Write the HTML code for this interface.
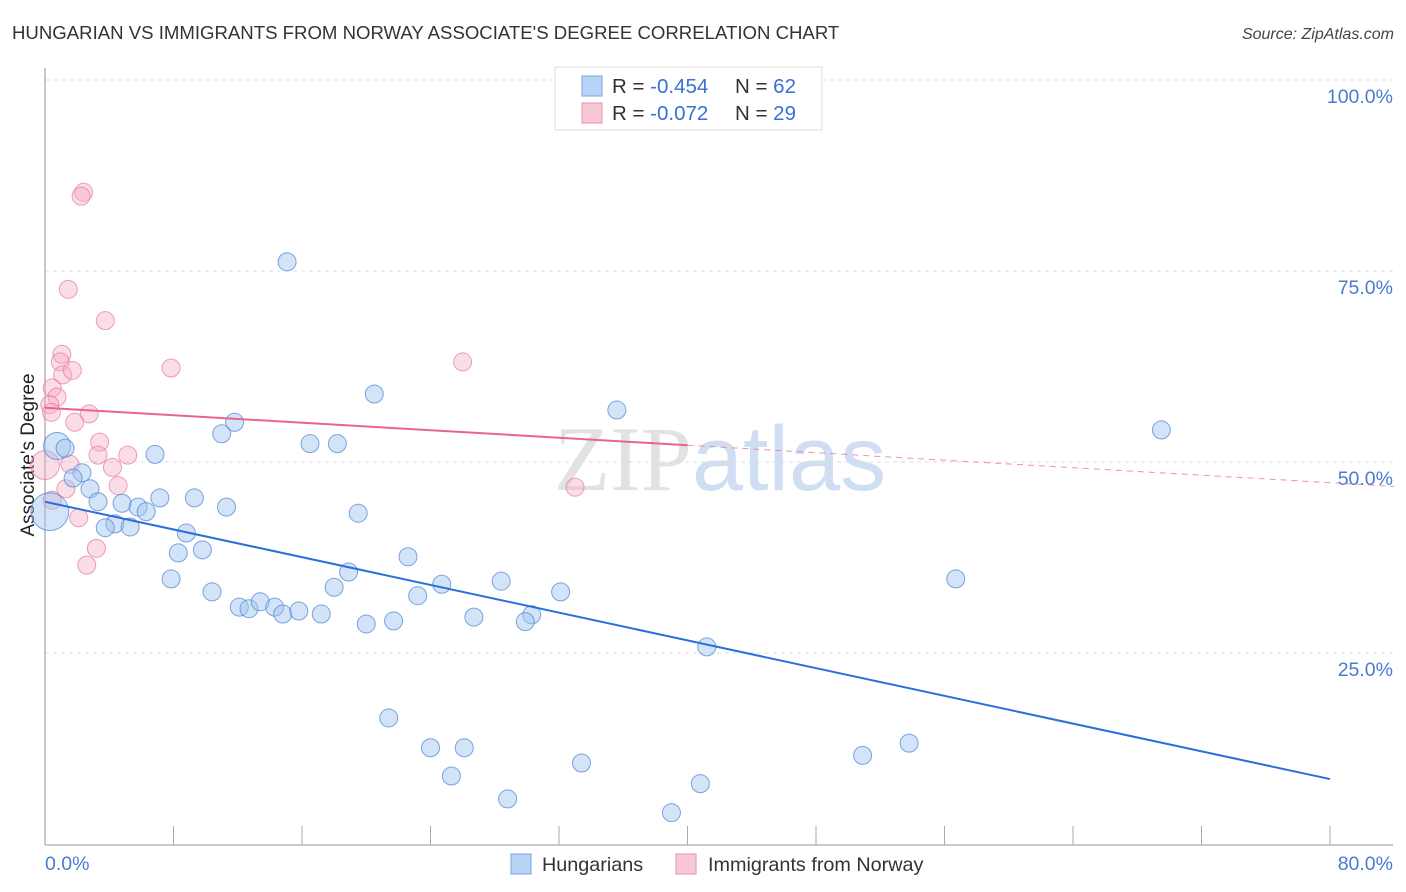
<!DOCTYPE html>
<html><head><meta charset="utf-8"><style>
body{margin:0;background:#fff;font-family:"Liberation Sans",sans-serif}
svg{display:block}
</style></head><body>
<svg id="chart" width="1406" height="892" viewBox="0 0 1406 892" xmlns="http://www.w3.org/2000/svg" font-family="Liberation Sans, sans-serif">
<text x="12" y="39" font-size="18.6" fill="#333">HUNGARIAN VS IMMIGRANTS FROM NORWAY ASSOCIATE'S DEGREE CORRELATION CHART</text>
<text x="1394" y="39" font-size="16" fill="#444" text-anchor="end" font-style="italic">Source: ZipAtlas.com</text>
<g font-size="92" text-anchor="middle">
<text x="720" y="490" fill="#ccc" opacity="0.55" font-family="Liberation Serif, serif">ZIP<tspan fill="#a9c4ea" font-family="Liberation Sans, sans-serif">atlas</tspan></text>
</g>
<g id="grid"></g>
<g id="yticks"></g>
<line x1="45" y1="68" x2="45" y2="845" stroke="#aaa" stroke-width="1.3"/>
<line x1="45" y1="845" x2="1393" y2="845" stroke="#aaa" stroke-width="1.3"/>
<g id="xticks"></g>
<text x="45" y="870" font-size="19.5" fill="#4a7bd0">0.0%</text>
<text x="1393" y="870" font-size="19.5" fill="#4a7bd0" text-anchor="end">80.0%</text>
<text transform="translate(34,455) rotate(-90)" font-size="19" fill="#222" text-anchor="middle">Associate's Degree</text>
<g id="pinkpts"></g>
<g id="bluepts"></g>
<g id="lines"></g>
<g>
<rect x="555" y="67" width="267" height="63" fill="#fff" stroke="#ddd"/>
<rect x="582" y="76" width="20" height="20" fill="#b8d3f5" stroke="#7aa5e0"/>
<rect x="582" y="103" width="20" height="20" fill="#f9c8d6" stroke="#e890aa"/>
<text x="612" y="93" font-size="20.5" fill="#333">R = <tspan fill="#3a6fd6">-0.454</tspan><tspan x="735">N = </tspan><tspan fill="#3a6fd6">62</tspan></text>
<text x="612" y="120" font-size="20.5" fill="#333">R = <tspan fill="#3a6fd6">-0.072</tspan><tspan x="735">N = </tspan><tspan fill="#3a6fd6">29</tspan></text>
</g>
<g>
<rect x="511" y="854" width="20" height="20" fill="#b8d3f5" stroke="#7aa5e0"/>
<text x="542" y="871" font-size="19.8" fill="#333">Hungarians</text>
<rect x="676" y="854" width="20" height="20" fill="#f9c8d6" stroke="#e890aa"/>
<text x="708" y="871" font-size="19.8" fill="#333">Immigrants from Norway</text>
</g>
</svg>
<script>
const yTicks=[25,50,75,100];
const yTickLabels=["25.0%","50.0%","75.0%","100.0%"];
const xTicks=[0,8,16,24,32,40,48,56,64,72,80];
const blueX=[15.07,20.5,35.6,69.5,11.8,11.0,16.5,18.2,0.75,1.25,6.85,2.3,1.75,2.8,7.15,9.3,3.3,4.8,5.8,6.3,11.3,19.5,0.3,4.35,3.75,5.3,8.8,8.3,9.8,22.6,18.9,7.85,18.0,24.7,28.4,56.7,10.4,23.2,32.1,12.1,12.7,13.4,14.3,14.8,15.8,17.2,20.0,21.7,26.7,30.3,29.9,41.2,21.4,24.0,26.1,53.8,50.9,33.4,25.3,28.8,40.8,39.0];
const blueY=[76.2,58.9,56.8,54.2,55.2,53.7,52.4,52.4,52.1,51.8,51.0,48.6,47.9,46.5,45.3,45.3,44.8,44.6,44.1,43.5,44.1,43.3,43.5,41.9,41.4,41.5,40.7,38.1,38.5,37.6,35.6,34.7,33.6,34.0,34.4,34.7,33.0,32.5,33.0,31.0,30.8,31.7,31.0,30.1,30.5,30.1,28.8,29.2,29.7,30.0,29.1,25.8,16.5,12.6,12.6,13.2,11.6,10.6,8.9,5.9,7.9,4.1];
const blueSize=[1,1,1,1,1,1,1,1,1.5,1,1,1,1,1,1,1,1,1,1,1,1,1,2.1,1,1,1,1,1,1,1,1,1,1,1,1,1,1,1,1,1,1,1,1,1,1,1,1,1,1,1,1,1,1,1,1,1,1,1,1,1,1,1];
const pinkX=[2.4,2.25,1.45,3.75,7.85,26.0,1.05,0.95,1.1,1.7,0.45,0.75,0.3,0.4,2.75,1.85,3.4,3.3,5.15,4.2,1.55,0,1.3,4.55,33.0,2.1,3.2,2.6,0.45];
const pinkY=[85.3,84.8,72.6,68.5,62.3,63.1,64.1,63.1,61.4,62.0,59.7,58.5,57.5,56.5,56.3,55.2,52.6,50.9,50.9,49.3,49.7,49.6,46.5,46.9,46.7,42.7,38.7,36.5,45.0];
const pinkSize=[1,1,1,1,1,1,1,1,1,1,1,1,1,1,1,1,1,1,1,1,1,1.6,1,1,1,1,1,1,1];
const blueTrend=[44.8,8.5];
const pinkTrend=[57.1,52.2,46.8];
const NS="http://www.w3.org/2000/svg";
const X=v=>45+v*16.0625, Y=v=>844-v*7.64;
function mk(t,a,p){const e=document.createElementNS(NS,t);for(const k in a)e.setAttribute(k,a[k]);p.appendChild(e);return e;}
const grid=document.getElementById('grid'),yt=document.getElementById('yticks');
yTicks.forEach((t,i)=>{
 const l=mk('line',{x1:45,x2:1393,y1:Y(t),y2:Y(t),stroke:'#ddd','stroke-dasharray':'4,4'},grid);
 
 
 const tx=mk('text',{x:1393,y:Y(t)+23,'font-size':19.5,fill:'#4a7bd0','text-anchor':'end'},yt);
 tx.textContent=yTickLabels[i];
 
 
});
const xt=document.getElementById('xticks');
xTicks.forEach(t=>{const l=mk('line',{x1:X(t),x2:X(t),y1:826,y2:845,stroke:'#aaa'},xt);
 
 });
const pp=document.getElementById('pinkpts');
pinkX.forEach((v,i)=>{const c=mk('circle',{cx:X(v),cy:Y(pinkY[i]),r:9*pinkSize[i],fill:'rgba(246,170,195,0.4)',stroke:'rgba(230,120,155,0.7)','stroke-width':1},pp);
 
 });
const bp=document.getElementById('bluepts');
blueX.forEach((v,i)=>{const c=mk('circle',{cx:X(v),cy:Y(blueY[i]),r:9*blueSize[i],fill:'rgba(160,196,240,0.45)',stroke:'rgba(70,130,210,0.7)','stroke-width':1},bp);
 
 });
const lg=document.getElementById('lines');
const b=mk('line',{x1:X(0),y1:Y(blueTrend[0]),x2:X(80),y2:Y(blueTrend[1]),stroke:'#2a6fdb','stroke-width':2},lg);


const p1=mk('line',{x1:X(0),y1:Y(pinkTrend[0]),x2:X(40),y2:Y(pinkTrend[1]),stroke:'#e8648e','stroke-width':2},lg);


const p2=mk('line',{x1:X(40),y1:Y(pinkTrend[1]),x2:X(84),y2:Y(pinkTrend[2]),stroke:'#e8648e','stroke-width':1,'stroke-dasharray':'6,5',opacity:0.7},lg);


</script>
</body></html>
